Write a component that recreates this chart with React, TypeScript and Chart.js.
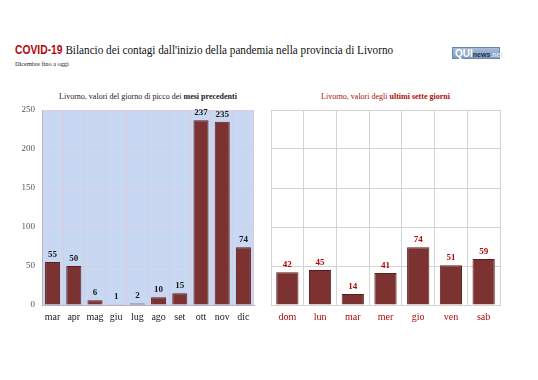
import React, { useEffect, useRef } from "react";
import { Chart, registerables } from "chart.js";

Chart.register(...registerables);

const monthLabels = ["mar", "apr", "mag", "giu", "lug", "ago", "set", "ott", "nov", "dic"];
const monthValues = [55, 50, 6, 1, 2, 10, 15, 237, 235, 74];
const dayLabels = ["dom", "lun", "mar", "mer", "gio", "ven", "sab"];
const dayValues = [42, 45, 14, 41, 74, 51, 59];
const yTicks = [0, 50, 100, 150, 200, 250];

const SERIF = "'Liberation Serif', 'DejaVu Serif', serif";
const BAR = "#7d3232";
const BAR_BORDER = "#5c1d1d";
const RED = "#b00a0a";

function makeLabelPlugin(color: string) {
  return {
    id: "valueLabels",
    afterDatasetsDraw(chart: any) {
      const ctx = chart.ctx;
      const meta = chart.getDatasetMeta(0);
      const data = chart.data.datasets[0].data as number[];
      ctx.save();
      ctx.font = `bold 9px ${SERIF}`;
      ctx.fillStyle = color;
      ctx.textAlign = "center";
      ctx.textBaseline = "bottom";
      meta.data.forEach((el: any, i: number) => {
        ctx.fillText(String(data[i]), el.x, el.y - 3);
      });
      ctx.restore();
    },
  };
}

function makeBgPlugin(color: string) {
  return {
    id: "bgArea",
    beforeDraw(chart: any) {
      const { ctx, chartArea } = chart;
      ctx.save();
      ctx.fillStyle = color;
      ctx.fillRect(chartArea.left, chartArea.top, chartArea.right - chartArea.left, chartArea.bottom - chartArea.top);
      ctx.restore();
    },
  };
}

function BarPanel(props: {
  labels: string[];
  values: number[];
  showY: boolean;
  bg: string;
  grid: string;
  border: string;
  labelColor: string;
  tickColor: string;
  yWidth: number;
  padRight: number;
  barPct: number;
  width: number;
  height: number;
}) {
  const ref = useRef<HTMLCanvasElement | null>(null);
  useEffect(() => {
    if (!ref.current) return;
    const chart = new Chart(ref.current, {
      type: "bar",
      data: {
        labels: props.labels,
        datasets: [
          {
            data: props.values,
            backgroundColor: BAR,
            borderColor: BAR_BORDER,
            borderWidth: 1,
            barPercentage: props.barPct,
            categoryPercentage: 1,
          },
        ],
      },
      options: {
        animation: false,
        responsive: false,
        maintainAspectRatio: false,
        layout: { padding: { left: 0, right: props.padRight, top: 20, bottom: 0 } },
        plugins: { legend: { display: false }, tooltip: { enabled: false } },
        scales: {
          x: {
            grid: { color: props.grid, offset: true, drawTicks: false },
            border: { color: props.border },
            ticks: {
              color: props.tickColor,
              font: { family: SERIF, size: 10 },
              padding: 6,
              maxRotation: 0,
              minRotation: 0,
              autoSkip: false,
            },
            afterFit: (s: any) => {
              s.height = 25;
            },
          },
          y: {
            min: 0,
            max: 250,
            afterBuildTicks: (s: any) => {
              s.ticks = yTicks.map((v) => ({ value: v }));
            },
            grid: { color: props.grid, drawTicks: false },
            border: { color: props.border },
            ticks: {
              display: props.showY,
              color: "#555",
              font: { family: SERIF, size: 9 },
              padding: 7,
            },
            afterFit: (s: any) => {
              s.width = props.yWidth;
            },
          },
        },
      },
      plugins: [makeBgPlugin(props.bg), makeLabelPlugin(props.labelColor)],
    });
    return () => chart.destroy();
  }, []);
  return <canvas ref={ref} width={props.width} height={props.height} style={{ display: "block" }} />;
}

export default function App() {
  return (
    <div
      style={{
        position: "fixed",
        left: 0,
        top: 0,
        width: 538,
        height: 380,
        background: "#fff",
        fontFamily: SERIF,
        overflow: "hidden",
      }}
    >
      <div
        style={{
          position: "absolute",
          left: 15,
          top: 42,
          fontSize: 13,
          whiteSpace: "nowrap",
          color: "#111",
          transform: "scaleX(0.86)",
          transformOrigin: "left top",
        }}
      >
        <span style={{ fontFamily: "'Liberation Sans', 'Open Sans', sans-serif", fontWeight: 700, color: RED, fontSize: 12 }}>
          COVID-19
        </span>{" "}
        Bilancio dei contagi dall'inizio della pandemia nella provincia di Livorno
      </div>
      <div
        style={{
          position: "absolute",
          left: 15,
          top: 60,
          fontSize: 7,
          color: "#222",
          whiteSpace: "nowrap",
          transform: "scaleX(0.9)",
          transformOrigin: "left top",
        }}
      >
        Dicembre fino a oggi
      </div>
      <div
        style={{
          position: "absolute",
          left: 452,
          top: 47,
          width: 48,
          height: 12,
          background: "linear-gradient(#a9bcd6, #7f9cc2)",
          border: "1px solid #6c86ad",
          fontFamily: "'Liberation Sans', sans-serif",
          fontWeight: 700,
          fontSize: 9,
          lineHeight: "11px",
          whiteSpace: "nowrap",
          boxSizing: "border-box",
          paddingLeft: 2,
        }}
      >
        <span style={{ color: "#fff", fontSize: 10 }}>QUI</span>
        <span style={{ color: "#1d2e4a", fontSize: 7 }}>news</span>
        <span style={{ color: "#dfe8f4", fontSize: 7 }}>.net</span>
      </div>

      <div style={{ position: "absolute", left: 42, width: 212, top: 92, textAlign: "center", fontSize: 8, color: "#222", whiteSpace: "nowrap" }}>
        Livorno, valori del giorno di picco dei <b>mesi precedenti</b>
      </div>
      <div style={{ position: "absolute", left: 271, width: 229, top: 92, textAlign: "center", fontSize: 8, color: RED, whiteSpace: "nowrap" }}>
        Livorno, valori degli <b>ultimi sette giorni</b>
      </div>

      <div style={{ position: "absolute", left: 0, top: 90 }}>
        <BarPanel
          labels={monthLabels}
          values={monthValues}
          showY={true}
          bg="#c8d8f2"
          grid="#d6cedd"
          border="#b8b4c4"
          labelColor="#1a1a1a"
          tickColor="#222"
          yWidth={42}
          padRight={8}
          barPct={0.71}
          width={262}
          height={240}
        />
      </div>
      <div style={{ position: "absolute", left: 266, top: 90 }}>
        <BarPanel
          labels={dayLabels}
          values={dayValues}
          showY={false}
          bg="#ffffff"
          grid="#d4d4d4"
          border="#d4d4d4"
          labelColor={RED}
          tickColor={RED}
          yWidth={5}
          padRight={10}
          barPct={0.68}
          width={244}
          height={240}
        />
      </div>
    </div>
  );
}
